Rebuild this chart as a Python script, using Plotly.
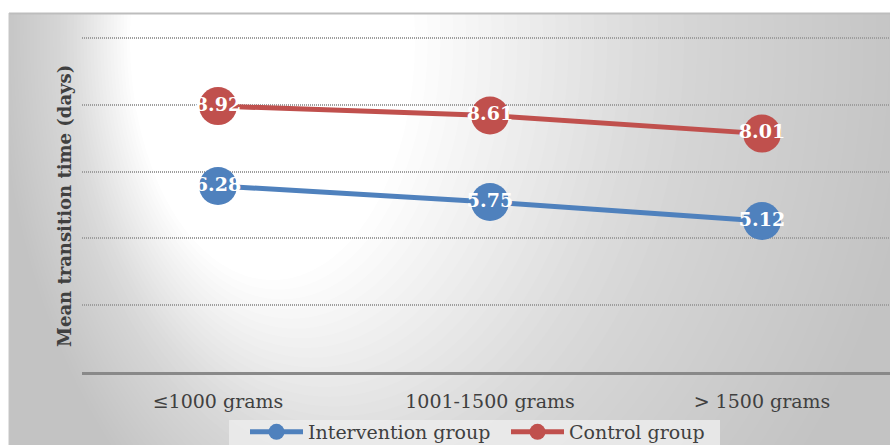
import plotly.graph_objects as go

categories = ["≤1000 grams", "1001-1500 grams", "> 1500 grams"]
intervention = [6.28, 5.75, 5.12]
control = [8.92, 8.61, 8.01]
series_names = ["Intervention group", "Control group"]
y_title = "Mean transition time (days)"

W, H = 890, 445
# plot area in screen pixels: x 82..890, y 34..372
ML, MR, MT = 82, 0, 34
MB = H - 372
PW = W - ML - MR
PH = H - MT - MB


def px_x(p):
    return (p - ML) / PW


def px_y(p):
    return (H - MB - p) / PH


FONT = "DejaVu Serif"
BLUE = "#4F81BD"
RED = "#C0504D"

fig = go.Figure()
for name, vals, col in [(series_names[0], intervention, BLUE), (series_names[1], control, RED)]:
    fig.add_trace(go.Scatter(
        x=categories, y=vals, name=name,
        mode="lines+markers+text",
        line=dict(color=col, width=5),
        marker=dict(color=col, size=38, line=dict(width=0)),
        text=[f"{v:.2f}" for v in vals],
        textposition="middle center",
        textfont=dict(family=FONT, size=19, color="white", weight="bold"),
        cliponaxis=False,
    ))

shapes = []
BASE = 195
shapes.append(dict(type="rect", xref="paper", yref="paper",
                   x0=px_x(9), x1=px_x(905), y0=px_y(13), y1=px_y(470),
                   fillcolor=f"rgb({BASE},{BASE},{BASE})", line=dict(width=0), layer="below"))
# asymmetric radial highlight built from nested translucent ellipses
N = 40
for i in range(1, N + 1):
    t = (i - 1) / (N - 1)
    L = 0 + 130 * t
    R = 915 - 500 * t
    cy = 40
    ry = 620 - 380 * t
    a = 1.0 / (N - i + 1)
    shapes.append(dict(type="circle", xref="paper", yref="paper",
                       x0=px_x(L), x1=px_x(R), y0=px_y(cy - ry), y1=px_y(cy + ry),
                       fillcolor=f"rgba(255,255,255,{a:.4f})", line=dict(width=0), layer="below"))
# white page outside chart frame
shapes.append(dict(type="rect", xref="paper", yref="paper",
                   x0=px_x(-60), x1=px_x(960), y0=px_y(12.5), y1=px_y(-600),
                   fillcolor="white", line=dict(width=0), layer="below"))
shapes.append(dict(type="rect", xref="paper", yref="paper",
                   x0=px_x(-600), x1=px_x(8.5), y0=px_y(-60), y1=px_y(520),
                   fillcolor="white", line=dict(width=0), layer="below"))
shapes.append(dict(type="line", xref="paper", yref="paper",
                   x0=px_x(9), x1=px_x(905), y0=px_y(13.5), y1=px_y(13.5),
                   line=dict(color="#bdbdbd", width=2), layer="below"))
shapes.append(dict(type="line", xref="paper", yref="paper",
                   x0=px_x(9), x1=px_x(9), y0=px_y(13), y1=px_y(470),
                   line=dict(color="#c6c6c6", width=1), layer="below"))
# legend box
shapes.append(dict(type="rect", xref="paper", yref="paper",
                   x0=px_x(229), x1=px_x(720), y0=px_y(420), y1=px_y(470),
                   fillcolor="rgba(236,236,236,0.85)", line=dict(width=0), layer="below"))

s = 30.26
zero_px = 376
y0v = (zero_px - 372) / s
y1v = (zero_px - 34) / s

fig.update_layout(
    width=W, height=H,
    margin=dict(l=ML, r=MR, t=MT, b=MB, pad=0, autoexpand=False),
    paper_bgcolor="white",
    plot_bgcolor="rgba(0,0,0,0)",
    font=dict(family=FONT, size=19, color="#404040"),
    shapes=shapes,
    showlegend=True,
    legend=dict(orientation="h", x=px_x(245), xanchor="left", y=px_y(413), yanchor="top",
                bgcolor="rgba(0,0,0,0)", borderwidth=0, itemwidth=53,
                entrywidth=193, entrywidthmode="pixels",
                font=dict(family=FONT, size=19, color="#404040"),
                tracegroupgap=0, itemsizing="trace"),
    xaxis=dict(range=[-0.5, (890 - 218) / 272], showgrid=False, zeroline=False,
               showline=True, linecolor="#898989", linewidth=2.5,
               ticks="", ticklabelstandoff=10, automargin=False,
               tickfont=dict(family=FONT, size=19, color="#404040")),
    yaxis=dict(range=[y0v, y1v], tick0=y0v, dtick=66.8 / s, showticklabels=False,
               showgrid=True, gridcolor="#9e9e9e", gridwidth=2, griddash="1px,1px",
               zeroline=False, showline=False, ticks="", automargin=False),
    annotations=[dict(text=f"<b>{y_title}</b>", xref="paper", yref="paper",
                      x=px_x(65), y=px_y(206), textangle=-90, showarrow=False,
                      xanchor="center", yanchor="middle",
                      font=dict(family=FONT, size=18, color="#404040"))],
)

fig.write_html("out.html", config={"displayModeBar": False},
               post_script="document.body.style.margin='0';document.body.style.overflow='hidden';")
